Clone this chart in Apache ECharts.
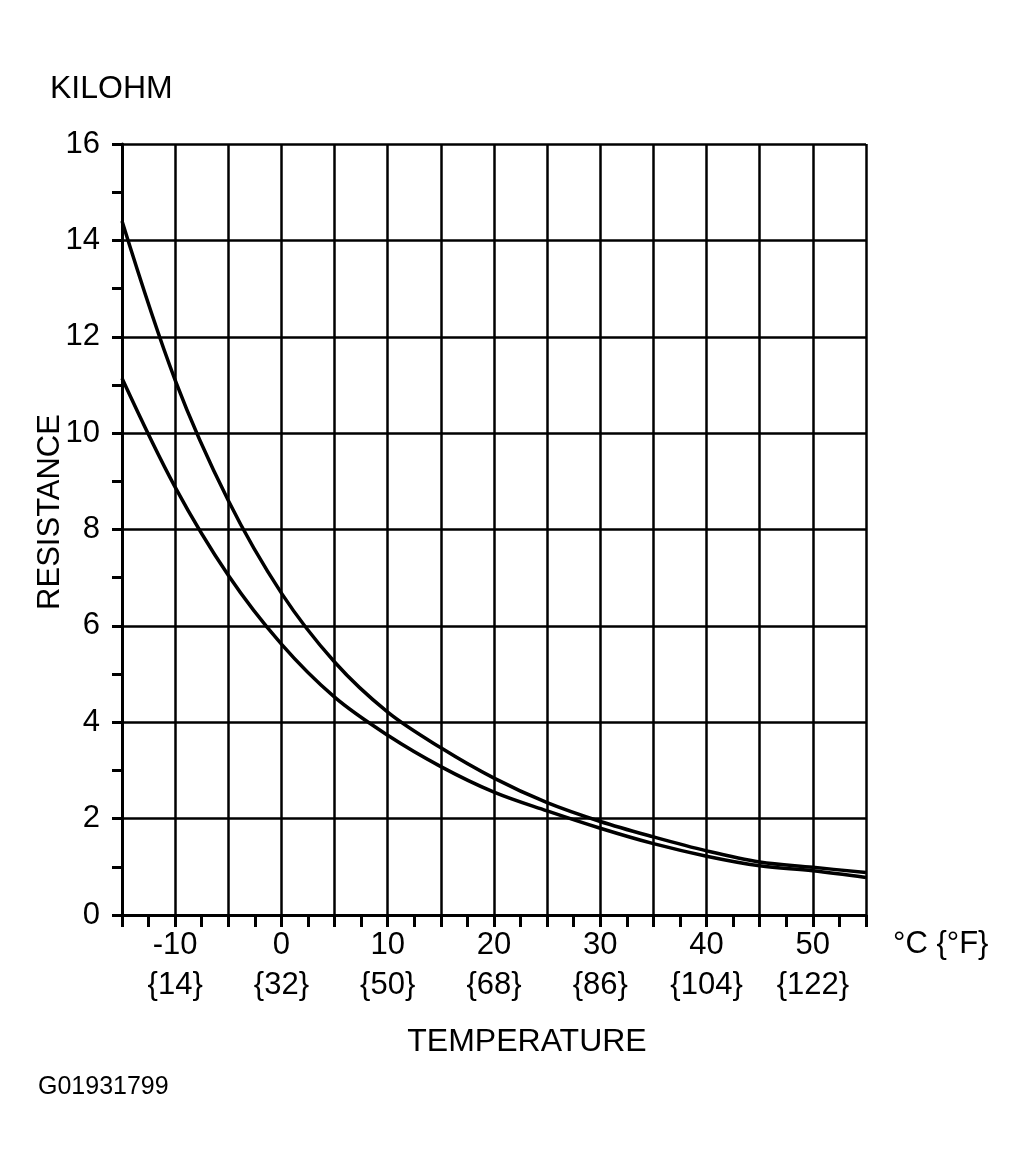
<!DOCTYPE html>
<html><head><meta charset="utf-8">
<script src="https://cdn.jsdelivr.net/npm/echarts@6/dist/echarts.min.js"></script>
<style>html,body{margin:0;padding:0;background:#fff}#c{width:1029px;height:1173px}</style>
</head><body><div id="c"></div>
<script>
const temps = [-15, -10, -5, 0, 5, 10, 15, 20, 25, 30, 35, 40, 45, 50, 55];
const upperCurve = [14.4, 11.1, 8.6, 6.68, 5.25, 4.21, 3.47, 2.84, 2.33, 1.94, 1.62, 1.33, 1.1, 0.99, 0.88];
const lowerCurve = [11.14, 8.88, 7.05, 5.62, 4.52, 3.73, 3.08, 2.55, 2.16, 1.8, 1.48, 1.22, 1.02, 0.92, 0.78];
const fahrenheit = {"-10": "14", "0": "32", "10": "50", "20": "68", "30": "86", "40": "104", "50": "122"};

const font = '"Liberation Sans", Arial, sans-serif';
const chart = echarts.init(document.getElementById('c'), null, {renderer: 'canvas'});
const lineStyle = {color: '#000', width: 3.5};
chart.setOption({
  animation: false,
  backgroundColor: '#fff',
  grid: {left: 122, right: 163, top: 144, bottom: 258, containLabel: false},
  xAxis: {
    type: 'value', min: -15, max: 55, interval: 5,
    axisLine: {show: true, onZero: false, lineStyle: {color: '#000', width: 3}},
    axisTick: {show: true, inside: false, length: 12, lineStyle: {color: '#000', width: 3}},
    minorTick: {show: true, splitNumber: 2, length: 12, lineStyle: {color: '#000', width: 3}},
    splitLine: {show: true, lineStyle: {color: '#000', width: 2.5}},
    axisLabel: {
      margin: 10, color: '#000', fontFamily: font, fontSize: 31, lineHeight: 40,
      formatter: v => (v % 10 === 0 && fahrenheit[String(v)] !== undefined) ? (v + '\n{' + fahrenheit[String(v)] + '}') : ''
    }
  },
  yAxis: {
    type: 'value', min: 0, max: 16, interval: 2,
    axisLine: {show: true, onZero: false, lineStyle: {color: '#000', width: 3}},
    axisTick: {show: true, inside: false, length: 10, lineStyle: {color: '#000', width: 3}},
    minorTick: {show: true, splitNumber: 2, length: 10, lineStyle: {color: '#000', width: 3}},
    splitLine: {show: true, lineStyle: {color: '#000', width: 2.5}},
    axisLabel: {margin: 22, color: '#000', fontFamily: font, fontSize: 31}
  },
  series: [
    {type: 'line', data: temps.map((t, i) => [t, upperCurve[i]]), smooth: 0.35, symbol: 'none', lineStyle: lineStyle, z: 5},
    {type: 'line', data: temps.map((t, i) => [t, lowerCurve[i]]), smooth: 0.35, symbol: 'none', lineStyle: lineStyle, z: 5}
  ],
  graphic: [
    {type: 'text', left: 50, top: 73, style: {text: 'KILOHM', fill: '#000', font: '32px ' + font}},
    {type: 'text', x: 50, y: 512, rotation: Math.PI / 2, style: {text: 'RESISTANCE', fill: '#000', font: '31px ' + font, textAlign: 'center', textVerticalAlign: 'middle'}},
    {type: 'text', left: 893, top: 929, style: {text: '°C {°F}', fill: '#000', font: '31px ' + font}},
    {type: 'text', x: 527, y: 1042, style: {text: 'TEMPERATURE', fill: '#000', font: '32px ' + font, textAlign: 'center', textVerticalAlign: 'middle'}},
    {type: 'text', left: 38, top: 1075, style: {text: 'G01931799', fill: '#000', font: '25px ' + font}}
  ]
});
</script></body></html>
